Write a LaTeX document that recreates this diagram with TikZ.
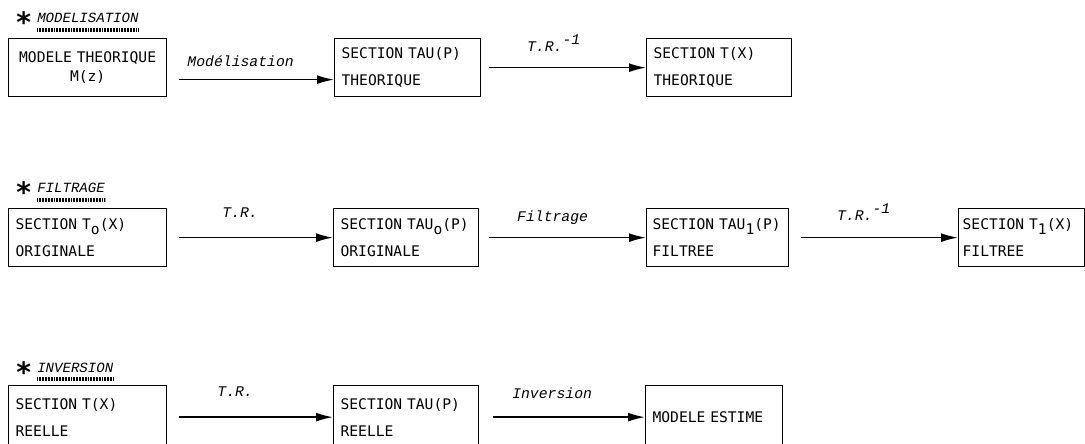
\documentclass[tikz,border=0pt]{standalone}
\usepackage{fontspec}
\setmonofont{DejaVu Sans Mono}[WordSpace={1,0,0}]
\newfontfamily\etiqfont{Liberation Mono}
\newfontfamily\astfont{DejaVu Sans}
\usetikzlibrary{arrows.meta}
\newlength{\Upx}
\setlength{\Upx}{0.025cm}
\tikzset{
    bloc/.style={draw, line width=0.9pt, anchor=north west, inner xsep=7\Upx,
        inner ysep=0pt, minimum height=58\Upx, align=left,
        font=\ttfamily\fontsize{10.4}{19}\selectfont},
    fleche/.style={-{Latex[length=0.42cm,width=0.22cm]}, line width=1.1pt,
        shorten <=12\Upx},
    etiq/.style={font=\etiqfont\itshape\fontsize{10.5}{12}\selectfont,
        inner sep=0pt, midway, anchor=south, xshift=-10\Upx},
    titre/.style={font=\etiqfont\itshape\fontsize{10}{12}\selectfont,
        inner sep=0pt, anchor=base west},
    etoile/.style={font=\astfont\bfseries\fontsize{20}{20}\selectfont,
        inner sep=0pt, anchor=base west},
    souligne/.style={line width=2.6pt, dash pattern=on 0.6pt off 0.5pt},
}
\newcommand{\sbas}[1]{\raisebox{-5\Upx}{#1}}
\newcommand{\inv}{T.R.\raisebox{7\Upx}{-1}}

\begin{document}
\begin{tikzpicture}[x=\Upx, y=-\Upx]

    \useasboundingbox (0,0) rectangle (1085,443);
    \clip (0,0) rectangle (1085,443);

    % modelisation
    \node[etoile] (smod) at (16,32) {*};
    \node[titre] (hmod) at (37,22) {MODELISATION};
    \draw[souligne] ([yshift=-8\Upx]hmod.base west) -- ([yshift=-8\Upx]hmod.base east);

    \node[bloc, align=center, inner xsep=3\Upx, text width=152\Upx,
        font=\ttfamily\fontsize{10.4}{13}\selectfont] (mth) at (8,38) {MODELE THEORIQUE\\M(z)};
    \node[bloc, text width=132\Upx] (tauth) at (334,38) {SECTION TAU(P)\\THEORIQUE};
    \node[bloc, text width=131\Upx] (tth) at (646,38) {SECTION T(X)\\THEORIQUE};

    \draw[fleche] ([yshift=-12\Upx]mth.east) -- ([yshift=-12\Upx]mth.east -| tauth.west)
        node[etiq, yshift=12\Upx] (lmod) {Modélisation};
    \draw[fleche, shorten <=8\Upx] (tauth.east) -- (tth.west)
        node[etiq, yshift=15\Upx] (linv1) {\inv};

    % filtrage
    \node[etoile] (sfil) at (16,202) {*};
    \node[titre] (hfil) at (37,192) {FILTRAGE};
    \draw[souligne] ([yshift=-8\Upx]hfil.base west) -- ([yshift=-8\Upx]hfil.base east);

    \node[bloc, text width=144\Upx] (tzero) at (8,208) {SECTION T\sbas{o}(X)\\ORIGINALE};
    \node[bloc, text width=131\Upx] (tauzero) at (333,208) {SECTION TAU\sbas{o}(P)\\ORIGINALE};
    \node[bloc, inner xsep=6\Upx, text width=130\Upx] (tauun) at (646,208) {SECTION TAU\sbas{1}(P)\\FILTREE};
    \node[bloc, inner xsep=4\Upx, text width=118\Upx] (tun) at (958,208) {SECTION T\sbas{1}(X)\\FILTREE};

    \draw[fleche] (tzero.east) -- (tauzero.west)
        node[etiq, yshift=19\Upx] (ltr1) {T.R.};
    \draw[fleche, shorten <=10\Upx] (tauzero.east) -- (tauun.west)
        node[etiq, yshift=12\Upx] (lfil) {Filtrage};
    \draw[fleche] (tauun.east) -- (tun.west)
        node[etiq, yshift=16\Upx] (linv2) {\inv};

    % inversion
    \node[etoile] (sinv) at (16,382) {*};
    \node[titre] (hinv) at (37,372) {INVERSION};
    \draw[souligne] ([yshift=-7\Upx]hinv.base west) -- ([yshift=-7\Upx]hinv.base east);

    \node[bloc, text width=144\Upx, minimum height=63\Upx] (treel) at (8,385) {SECTION T(X)\\REELLE};
    \node[bloc, text width=131\Upx, minimum height=63\Upx] (taureel) at (333,385) {SECTION TAU(P)\\REELLE};
    \node[bloc, text width=123\Upx, minimum height=63\Upx] (modest) at (645,385) {MODELE ESTIME};

    \draw[fleche] (treel.east) -- (taureel.west)
        node[etiq, yshift=20\Upx, xshift=-5\Upx] (ltr2) {T.R.};
    \draw[fleche, shorten <=14\Upx] (taureel.east) -- (modest.west)
        node[etiq, yshift=18\Upx] (linvers) {Inversion};

\end{tikzpicture}
\end{document}
